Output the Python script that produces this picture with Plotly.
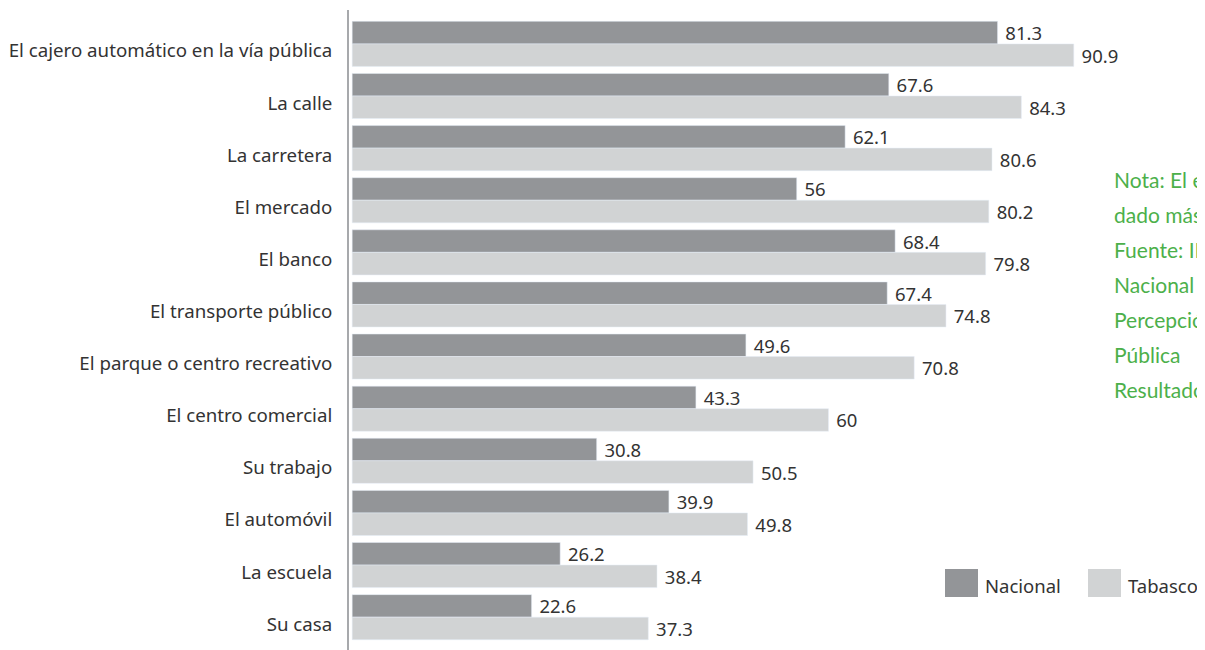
import plotly.graph_objects as go

lugares = [
    "El cajero automático en la vía pública",
    "La calle",
    "La carretera",
    "El mercado",
    "El banco",
    "El transporte público",
    "El parque o centro recreativo",
    "El centro comercial",
    "Su trabajo",
    "El automóvil",
    "La escuela",
    "Su casa",
]
nacional = [81.3, 67.6, 62.1, 56, 68.4, 67.4, 49.6, 43.3, 30.8, 39.9, 26.2, 22.6]
tabasco = [90.9, 84.3, 80.6, 80.2, 79.8, 74.8, 70.8, 60, 50.5, 49.8, 38.4, 37.3]

nota = [
    "Nota: El entrevistado pudo haber",
    "dado más de una respuesta.",
    "Fuente: INEGI. Encuesta",
    "Nacional de Victimización y",
    "Percepción sobre Seguridad",
    "Pública",
    "Resultados 2019",
]

# la página deja 8 px de margen en el body
OFF = 8
W, H = 1205 - OFF, 650 - OFF
L, R, T, B = 349 - OFF, 59, 10 - OFF, 0
pw, ph = W - L - R, H - T - B


def px(x):
    return (x - OFF - L) / pw


def py(y):
    return (H - B - (y - OFF)) / ph


fig = go.Figure()

fig.add_trace(go.Bar(
    y=lugares, x=nacional, orientation="h", name="Nacional",
    marker_color="#939598", text=[f" {v:g}" for v in nacional],
    textposition="outside", cliponaxis=False, constraintext="none",
    textfont=dict(size=18.5, color="#333333"),
))
fig.add_trace(go.Bar(
    y=lugares, x=tabasco, orientation="h", name="Tabasco",
    marker_color="#d1d3d4", text=[f" {v:g}" for v in tabasco],
    textposition="outside", cliponaxis=False, constraintext="none",
    textfont=dict(size=18.5, color="#333333"),
))

# leyenda dibujada a mano (cuadros grandes)
shapes = []
annotations = []
for x0, color, label in [(945, "#939598", "Nacional"), (1088, "#d1d3d4", "Tabasco")]:
    shapes.append(dict(type="rect", xref="paper", yref="paper",
                       x0=px(x0), x1=px(x0 + 33), y0=py(597), y1=py(569),
                       fillcolor=color, line_width=0))
    annotations.append(dict(xref="paper", yref="paper", x=px(x0 + 38), y=py(585),
                            text=label, showarrow=False, xanchor="left",
                            yanchor="middle",
                            font=dict(size=18.5, color="#333333")))

for i, linea in enumerate(nota):
    annotations.append(dict(xref="paper", yref="paper", x=px(1112), y=py(179 + 35 * i),
                            text=linea, showarrow=False, xanchor="left",
                            yanchor="middle", align="left",
                            font=dict(family="Lato", size=21, color="#4cb04a")))

fig.update_layout(
    width=W, height=H,
    margin=dict(l=L, r=R, t=T, b=B),
    barmode="group", bargap=0.135, bargroupgap=0,
    plot_bgcolor="white", paper_bgcolor="white",
    font=dict(family="Noto Sans", size=18.7, color="#333333"),
    showlegend=False,
    shapes=shapes, annotations=annotations,
)
fig.update_xaxes(range=[-0.4, 100], visible=False)
fig.update_yaxes(
    range=[11.63, -0.65], showline=True, linecolor="#a7a9ac", linewidth=2,
    showgrid=False, ticks="", ticklabelstandoff=11, ticklabelshift=-7,
    automargin=False, tickfont=dict(size=18.7, color="#333333"),
)

fig.write_html("out.html")
